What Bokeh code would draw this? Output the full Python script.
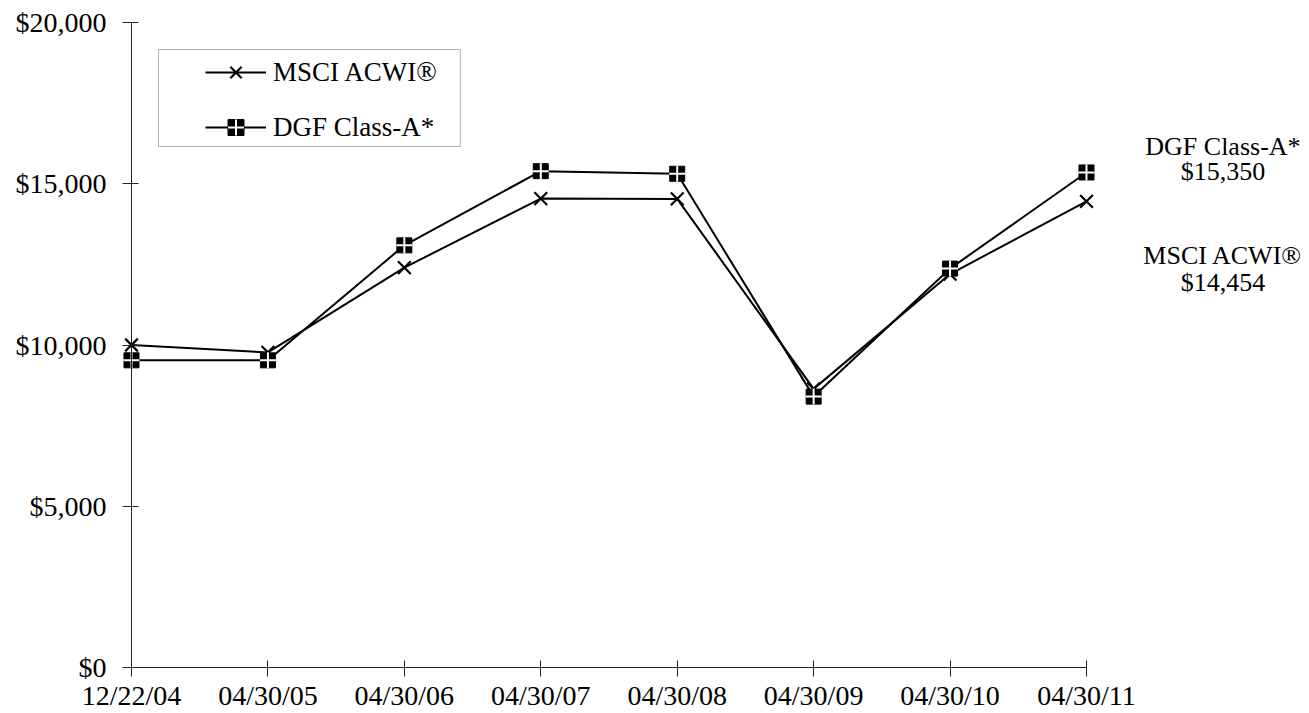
from bokeh.plotting import figure
from bokeh.models import (Range1d, FixedTicker, NumeralTickFormatter, Legend, LegendItem,
                          Label, BoxAnnotation)
from bokeh.embed import file_html
from bokeh.resources import INLINE

# ---- data ----
dates = ["12/22/04", "04/30/05", "04/30/06", "04/30/07", "04/30/08", "04/30/09", "04/30/10", "04/30/11"]
msci = [10000, 9770, 12400, 14540, 14530, 8640, 12200, 14454]
dgf = [9525, 9525, 13090, 15390, 15310, 8400, 12370, 15350]
msci_name = "MSCI ACWI®"
dgf_name = "DGF Class-A*"
y_ticks = [0, 5000, 10000, 15000, 20000]

FONT = "Liberation Serif"

xs = list(range(len(dates)))
n = len(dates) - 1

p = figure(width=1301, height=712, output_backend="svg", toolbar_location=None,
           x_range=Range1d(-0.9602, 8.576), y_range=Range1d(-1395, 20682),
           min_border=0)
p.outline_line_color = None
p.xgrid.visible = False
p.ygrid.visible = False
p.background_fill_color = "white"
p.border_fill_color = "white"

# axes drawn inside the frame so that end markers and labels are not clipped
p.xaxis.fixed_location = 0
p.yaxis.fixed_location = 0
p.xaxis.bounds = (0, n)
p.yaxis.bounds = (0, 20000)
p.xaxis.ticker = FixedTicker(ticks=xs)
p.xaxis.major_label_overrides = {i: d for i, d in enumerate(dates)}
p.yaxis.ticker = FixedTicker(ticks=y_ticks)
p.yaxis.formatter = NumeralTickFormatter(format="$0,0")
for ax in (p.xaxis[0], p.yaxis[0]):
    ax.axis_line_color = "#222222"
    ax.axis_line_width = 1
    ax.major_tick_line_color = "#222222"
    ax.major_tick_in = 7
    ax.major_tick_out = 9
    ax.minor_tick_line_color = None
    ax.major_label_text_font = FONT
    ax.major_label_text_font_size = "28px"
    ax.major_label_text_color = "black"
p.xaxis.major_label_standoff = 3
p.yaxis.major_label_standoff = 16

# series
ml = p.line(xs, msci, line_color="black", line_width=2)
mx = p.scatter(xs, msci, marker="x", size=18, line_color="black", line_width=2.2)

dl = p.line(xs, dgf, line_color="black", line_width=2)
ds = p.scatter(xs, dgf, marker="square", size=15, fill_color="black", line_color="black")
dc = p.scatter(xs, dgf, marker="cross", size=16, line_color="white", line_width=2)

# legend (border drawn separately)
legend = Legend(items=[LegendItem(label=msci_name, renderers=[ml, mx]),
                       LegendItem(label=dgf_name, renderers=[dl, ds, dc])],
                location=(205, 565), padding=0, spacing=15, label_height=40, glyph_height=40,
                glyph_width=61, label_standoff=7, border_line_color=None,
                background_fill_alpha=0, label_text_font=FONT, label_text_font_size="27px",
                label_text_color="black")
p.add_layout(legend, "center")
p.add_layout(BoxAnnotation(left=0.198, right=2.41, top=19163, bottom=16155,
                           fill_alpha=0, line_color="black", line_width=1))

# end labels
for name, val, y1, y2 in [(dgf_name, dgf[-1], 16150, 15380), (msci_name, msci[-1], 12775, 11938)]:
    p.add_layout(Label(x=8.0, y=y1, text=name, text_align="center", text_baseline="middle",
                       text_font=FONT, text_font_size="26px", text_color="black"))
    p.add_layout(Label(x=8.0, y=y2, text="${:,}".format(val), text_align="center",
                       text_baseline="middle", text_font=FONT, text_font_size="26px",
                       text_color="black"))

open("out.html", "w").write(file_html(p, INLINE))
